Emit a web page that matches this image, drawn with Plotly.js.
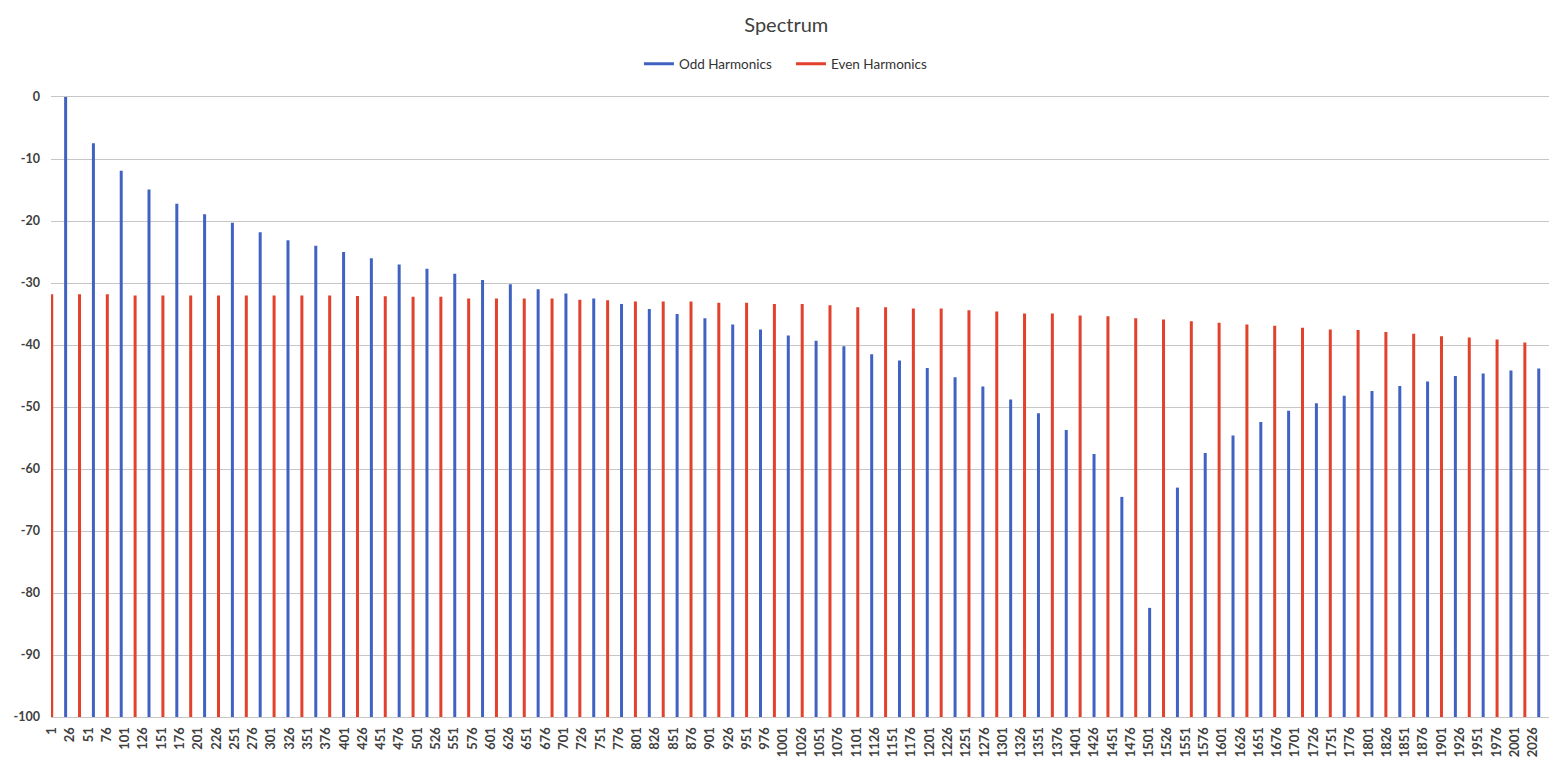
<!DOCTYPE html>
<html>
<head>
<meta charset="utf-8">
<script src="https://cdn.plot.ly/plotly-3.0.1.min.js"></script>
<style>html,body{margin:0;padding:0;background:#fff;}#chart{width:1557px;height:766px;}</style>
</head>
<body>
<div id="chart"></div>
<script>
// ---- data ----
const binCount = 2048;          // FFT bins shown on the category axis
const binsPerHarmonic = 19;     // bin distance between successive harmonics
const floorLevel = -100;        // axis floor (dB)

// Odd harmonics 1,3,5,... (dB)
const oddLevels = [
  0, -7.45, -11.9, -14.9, -17.2, -18.9, -20.3, -21.8, -23.1, -24.0,
  -25.0, -26.0, -27.0, -27.7, -28.5, -29.5, -30.2, -31.0, -31.7, -32.5,
  -33.4, -34.2, -35.0, -35.7, -36.7, -37.5, -38.45, -39.3, -40.2, -41.5,
  -42.5, -43.7, -45.2, -46.7, -48.8, -51.0, -53.7, -57.6, -64.5, -82.4,
  -63.0, -57.4, -54.6, -52.4, -50.6, -49.4, -48.2, -47.4, -46.6, -45.9,
  -45.0, -44.6, -44.1, -43.8
];
// Even harmonics 0,2,4,... (dB)
const evenLevels = [
  -31.8, -31.8, -31.8, -32.0, -32.0, -32.0, -32.0, -32.0, -32.0, -32.0,
  -32.0, -32.1, -32.15, -32.2, -32.2, -32.5, -32.5, -32.5, -32.5, -32.7,
  -32.8, -33.0, -33.0, -33.0, -33.2, -33.2, -33.4, -33.4, -33.6, -33.9,
  -33.9, -34.1, -34.1, -34.4, -34.6, -34.9, -34.9, -35.25, -35.35, -35.7,
  -35.9, -36.15, -36.4, -36.7, -36.9, -37.2, -37.5, -37.6, -37.9, -38.2,
  -38.6, -38.8, -39.1, -39.6
];
// Category tick labels (bin numbers)
const tickLabels = [
  1, 26, 51, 76, 101, 126, 151, 176, 201, 226, 251, 276, 301, 326, 351, 376,
  401, 426, 451, 476, 501, 526, 551, 576, 601, 626, 651, 676, 701, 726, 751,
  776, 801, 826, 851, 876, 901, 926, 951, 976, 1001, 1026, 1051, 1076, 1101,
  1126, 1151, 1176, 1201, 1226, 1251, 1276, 1301, 1326, 1351, 1376, 1401,
  1426, 1451, 1476, 1501, 1526, 1551, 1576, 1601, 1626, 1651, 1676, 1701,
  1726, 1751, 1776, 1801, 1826, 1851, 1876, 1901, 1926, 1951, 1976, 2001, 2026
];
const yTicks = [0, -10, -20, -30, -40, -50, -60, -70, -80, -90, -100];

// ---- build spike traces ----
function spikes(levels, firstHarmonic) {
  const x = [], y = [];
  levels.forEach((v, i) => {
    const h = firstHarmonic + 2 * i;
    const bin = 1 + binsPerHarmonic * h;
    x.push(bin, bin, null);
    y.push(floorLevel, v, null);
  });
  return {x, y};
}
const odd = spikes(oddLevels, 1);
const even = spikes(evenLevels, 0);

const FONT = 'Lato, "Open Sans", "DejaVu Sans", sans-serif';
const traces = [
  {x: odd.x, y: odd.y, name: 'Odd Harmonics', type: 'scatter', mode: 'lines',
   line: {color: '#4062C2', width: 3}, hoverinfo: 'skip'},
  {x: even.x, y: even.y, name: 'Even Harmonics', type: 'scatter', mode: 'lines',
   line: {color: '#E2412B', width: 3}, hoverinfo: 'skip'}
];

const layout = {
  width: 1557, height: 766,
  margin: {l: 51, r: 8, t: 97, b: 49},
  paper_bgcolor: '#ffffff', plot_bgcolor: '#ffffff',
  font: {family: FONT, color: '#404040'},
  title: {text: 'Spectrum', x: 0.505, xref: 'container', xanchor: 'center',
          y: 1 - 25 / 766, yref: 'container', yanchor: 'middle',
          font: {size: 20, color: '#404040', family: FONT}},
  showlegend: true,
  legend: {orientation: 'h', x: 0.508, xref: 'container', xanchor: 'center',
           y: 1 - 64 / 766, yref: 'container', yanchor: 'middle',
           entrywidth: 107, entrywidthmode: 'pixels',
           font: {size: 13.5, color: '#333333', family: FONT}, bgcolor: 'rgba(0,0,0,0)'},
  xaxis: {
    type: 'linear', range: [0, binCount], fixedrange: true,
    tickvals: tickLabels, ticktext: tickLabels.map(String), tickangle: -90,
    tickfont: {size: 13, color: '#404040', family: FONT, weight: 'bold'},
    showgrid: false, zeroline: false, ticks: '',
    showline: true, mirror: true, linecolor: '#C6C6C6', linewidth: 1,
    ticklabelstandoff: 4
  },
  yaxis: {
    range: [-100, 0], fixedrange: true,
    tickvals: yTicks, ticktext: yTicks.map(String),
    tickfont: {size: 12.5, color: '#404040', family: FONT, weight: 'bold'},
    showgrid: true, gridcolor: '#C6C6C6', gridwidth: 1,
    zeroline: false, showline: false, ticks: '', ticklabelstandoff: 10
  }
};

Plotly.newPlot('chart', traces, layout, {staticPlot: true, displayModeBar: false});
</script>
</body>
</html>
